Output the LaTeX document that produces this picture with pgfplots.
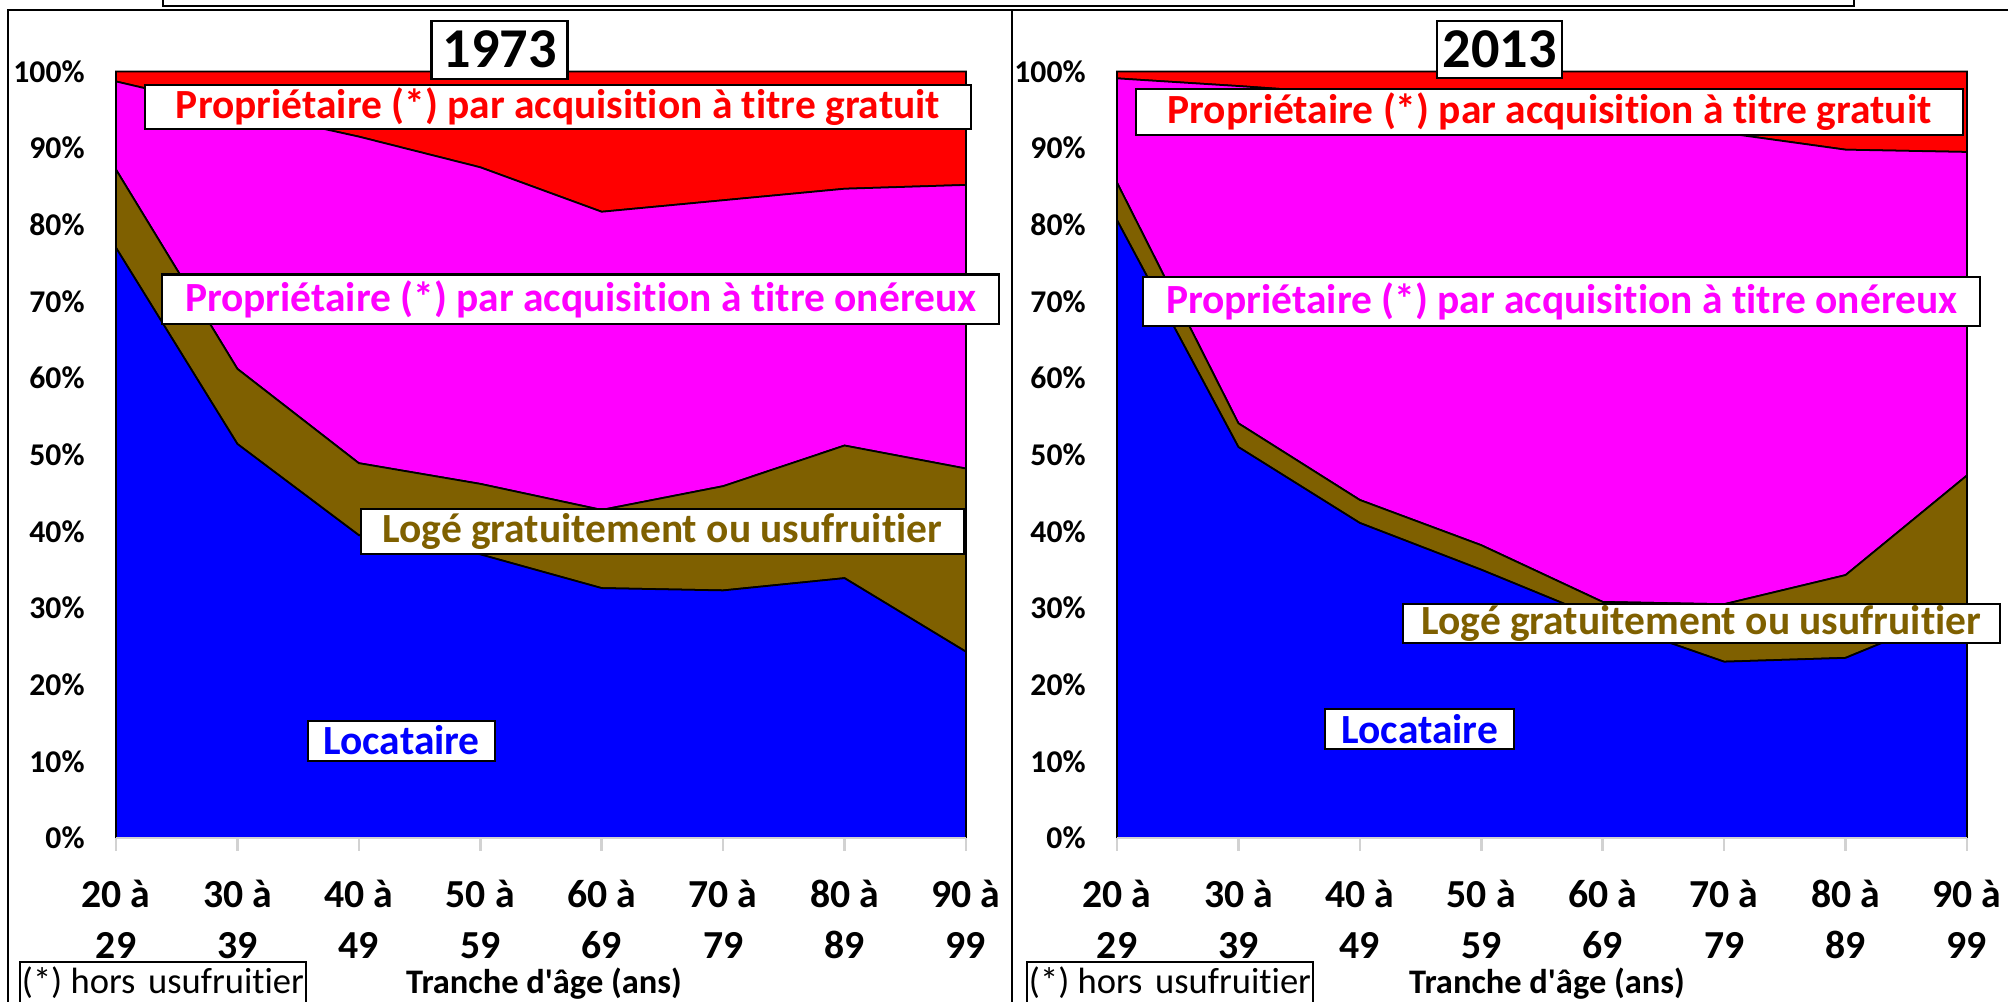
\documentclass[border=0pt]{standalone}
\usepackage{fontspec}
\setmainfont{Carlito}[Ligatures={NoCommon}]
\usepackage{pgfplots}
\usepackage{pgfplotstable}
\pgfplotsset{compat=1.18}
\definecolor{cblue}{RGB}{0,0,255}
\definecolor{cbrown}{RGB}{127,96,0}
\definecolor{cmag}{RGB}{255,0,255}
\definecolor{cred}{RGB}{255,0,0}

\pgfplotstableread{
x loc loge oner grat
0 77.0 10.2 11.5 1.3
1 51.4 9.8 33.8 5.0
2 39.5 9.4 42.6 8.5
3 37.0 9.2 41.3 12.5
4 32.6 10.2 38.9 18.3
5 32.3 13.6 37.3 16.8
6 33.9 17.3 33.5 15.3
7 24.3 23.9 37.0 14.8
}\dataA

\pgfplotstableread{
x loc loge oner grat
0 80.6 4.9 13.6 0.9
1 51.0 3.1 44.0 1.9
2 41.1 3.0 52.9 3.0
3 35.0 3.2 57.3 4.5
4 28.5 2.3 62.7 6.5
5 23.0 7.5 61.5 8.0
6 23.5 10.8 55.5 10.2
7 30.0 17.3 42.2 10.5
}\dataB

\pgfplotsset{
  panel/.style={
    scale only axis, width=85mm, height=76.65mm,
    anchor=south west,
    xmin=0, xmax=7, ymin=0, ymax=100,
    stack plots=y, area style, clip=false,
    axis x line*=bottom, axis y line*=left,
    y axis line style={draw=none},
    x axis line style={draw=gray!35, line width=0.7pt},
    xtick={0,...,7},
    xticklabels={{20 à\\29},{30 à\\39},{40 à\\49},{50 à\\59},{60 à\\69},{70 à\\79},{80 à\\89},{90 à\\99}},
    xtick align=outside,
    major tick length=1.3mm,
    x tick style={draw=gray!35, line width=0.7pt},
    xticklabel style={align=center, font=\fontsize{11.3}{14.5}\selectfont\bfseries, yshift=-1.7mm},
    ytick={0,10,...,100},
    yticklabels={0\%,10\%,20\%,30\%,40\%,50\%,60\%,70\%,80\%,90\%,100\%},
    y tick style={draw=none},
    yticklabel style={font=\fontsize{9}{10}\selectfont\bfseries, xshift=-1.9mm},
    every axis plot/.append style={draw=black, line width=0.5pt},
  }
}

\newcommand{\lbl}[6]{\node[draw=black, line width=0.6pt, fill=white, inner sep=0pt,
  minimum width=#3*0.1mm, minimum height=#4*0.1mm, text=#5,
  font=\fontsize{11.8}{13}\selectfont\bfseries] at (#1,{1002-#2}) {#6};}

\begin{document}
\begin{tikzpicture}[x=0.1mm, y=0.1mm]
\useasboundingbox (0,0) rectangle (2008,1002);
% frames
\draw[line width=0.6pt] (163,1030) -- (163,996) -- (1854,996) -- (1854,1030);
\draw[line width=0.6pt] (8,-20) -- (8,992) -- (2030,992);
\draw[line width=0.6pt] (1012,-20) -- (1012,992);

\begin{axis}[panel, at={(11.6mm,16.4mm)}]
\addplot[fill=cblue] table[x=x,y=loc]{\dataA} \closedcycle;
\addplot[fill=cbrown] table[x=x,y=loge]{\dataA} \closedcycle;
\addplot[fill=cmag] table[x=x,y=oner]{\dataA} \closedcycle;
\addplot[fill=cred] table[x=x,y=grat]{\dataA} \closedcycle;
\end{axis}

\begin{axis}[panel, at={(111.7mm,16.4mm)}]
\addplot[fill=cblue] table[x=x,y=loc]{\dataB} \closedcycle;
\addplot[fill=cbrown] table[x=x,y=loge]{\dataB} \closedcycle;
\addplot[fill=cmag] table[x=x,y=oner]{\dataB} \closedcycle;
\addplot[fill=cred] table[x=x,y=grat]{\dataB} \closedcycle;
\end{axis}

% left labels
\lbl{558}{107}{826}{44}{cred}{Propriétaire (*) par acquisition à titre gratuit}
\lbl{580.7}{299.3}{837}{49.5}{cmag}{Propriétaire (*) par acquisition à titre onéreux}
\lbl{662.4}{531.5}{603}{45}{cbrown}{Logé gratuitement ou usufruitier}
\lbl{401.7}{740.6}{187}{40}{cblue}{Locataire}
\node[draw=black, line width=0.6pt, fill=white, inner sep=0pt, minimum width=13.6mm, minimum height=5.8mm,
  font=\fontsize{16}{18}\selectfont\bfseries] at (499.5,{1002-49.7}) {1973};
% right labels
\lbl{1549.5}{111.9}{826.6}{46}{cred}{Propriétaire (*) par acquisition à titre gratuit}
\lbl{1561.7}{301.6}{837}{48.5}{cmag}{Propriétaire (*) par acquisition à titre onéreux}
\lbl{1701.4}{623.6}{597}{39}{cbrown}{Logé gratuitement ou usufruitier}
\lbl{1419.8}{729}{189}{39.3}{cblue}{Locataire}
\node[draw=black, line width=0.6pt, fill=white, inner sep=0pt, minimum width=12.55mm, minimum height=5.7mm,
  font=\fontsize{16}{18}\selectfont\bfseries] at (1499.5,{1002-49.5}) {2013};

% bottom notes
\draw[line width=0.6pt, fill=white] (20,-2) rectangle (306,40);
\node[font=\fontsize{10.4}{12}\selectfont] at (163,19) {(*) hors\hspace{0.35em}usufruitier};
\draw[line width=0.6pt, fill=white] (1027,-2) rectangle (1313,40);
\node[font=\fontsize{10.4}{12}\selectfont] at (1170,19) {(*) hors\hspace{0.35em}usufruitier};
\node[font=\fontsize{9.8}{12}\selectfont\bfseries] at (544,18) {Tranche d\textquotesingle âge (ans)};
\node[font=\fontsize{9.8}{12}\selectfont\bfseries] at (1547,18) {Tranche d\textquotesingle âge (ans)};
\end{tikzpicture}
\end{document}
